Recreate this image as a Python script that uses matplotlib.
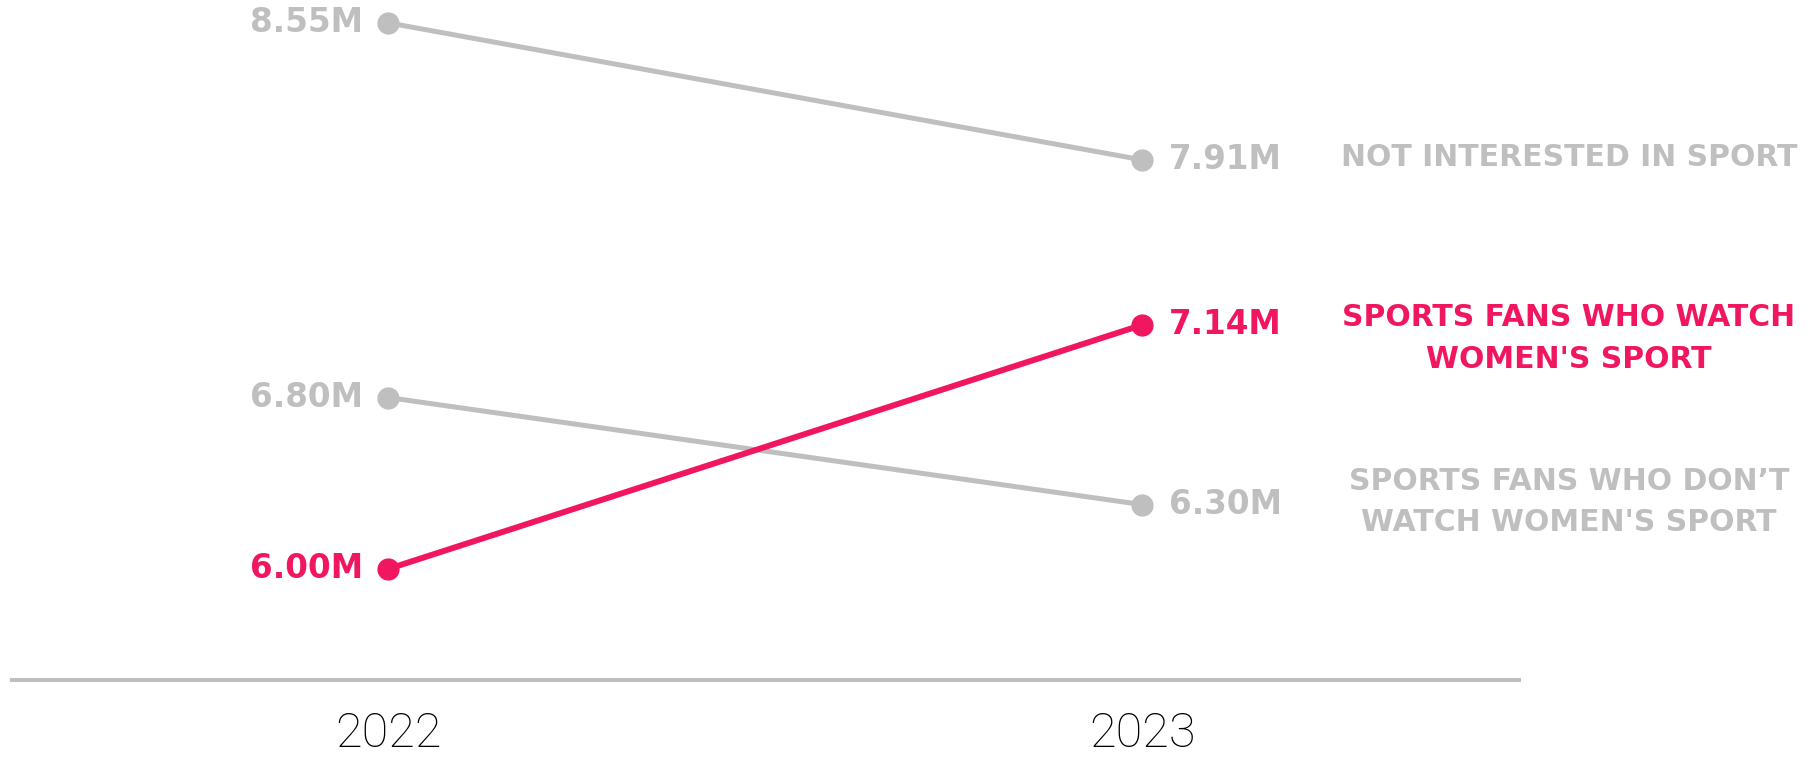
import matplotlib
matplotlib.use('Agg')
import matplotlib.pyplot as plt

# data
years = ['2022', '2023']
series_names = ['NOT INTERESTED IN SPORT',
                'SPORTS FANS WHO DON\u2019T\nWATCH WOMEN\'S SPORT',
                'SPORTS FANS WHO WATCH\nWOMEN\'S SPORT']
values_2022 = [8.55, 6.80, 6.00]
values_2023 = [7.91, 6.30, 7.14]

gray = '#BFBFBF'
pink = '#F01760'
colors = [gray, gray, pink]
lws = [3.6, 3.6, 4.3]
# nudge of the right hand labels (points)
label_dy = [2, 2, -10]

fig = plt.figure(figsize=(18.12, 7.62), dpi=100)
ax = fig.add_axes([0.00635, 0.1076, 0.8322, 0.8924])

xs = list(range(len(years)))
for i in range(len(series_names)):
    yv = [values_2022[i], values_2023[i]]
    ax.plot(xs, yv, color=colors[i], lw=lws[i], marker='o', ms=15,
            solid_capstyle='round', zorder=3 if colors[i] == pink else 2,
            clip_on=False)
    ax.annotate('%.2fM' % values_2022[i], (xs[0], yv[0]), xytext=(-18, 0),
                textcoords='offset points', ha='right', va='center',
                fontsize=23.5, fontweight='bold', color=colors[i])
    ax.annotate('%.2fM' % values_2023[i], (xs[1], yv[1]), xytext=(19, 0),
                textcoords='offset points', ha='left', va='center',
                fontsize=23.5, fontweight='bold', color=colors[i])
    ax.annotate(series_names[i], (1.5656, yv[1]), xytext=(0, label_dy[i]),
                textcoords='offset points', ha='center', va='center',
                fontsize=21.5, fontweight='bold', color=colors[i],
                linespacing=1.55, annotation_clip=False)

ax.set_xlim(-0.5, 1.5)
ax.set_ylim(5.481, 8.657)
ax.set_xticks(xs)
ax.set_xticklabels(years, fontsize=35, fontweight='light',
                   family=['Roboto', 'DejaVu Sans'], color='black')
ax.tick_params(axis='x', length=0, pad=22)
ax.set_yticks([])
for s in ['top', 'left', 'right']:
    ax.spines[s].set_visible(False)
ax.spines['bottom'].set_color(gray)
ax.spines['bottom'].set_linewidth(2.9)
ax.set_facecolor('none')

fig.savefig('out.png', dpi=100)
